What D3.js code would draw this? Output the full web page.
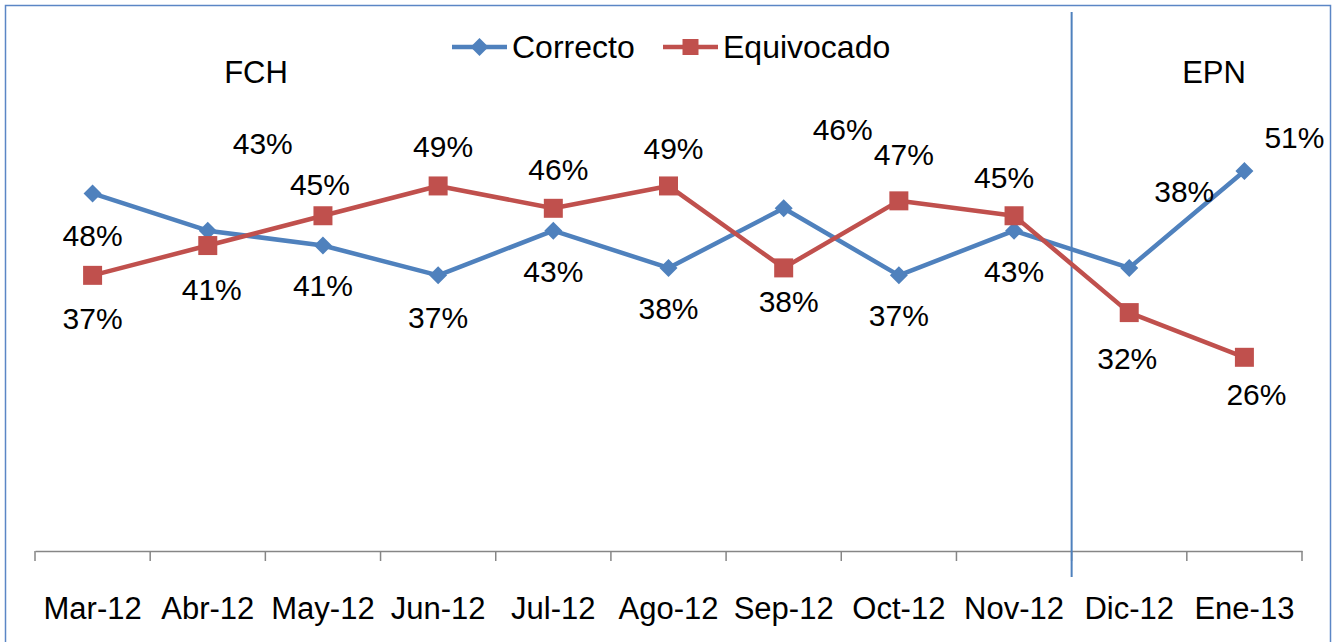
<!DOCTYPE html>
<html>
<head>
<meta charset="utf-8">
<script src="https://cdn.jsdelivr.net/npm/d3@7"></script>
<style>
  body { margin: 0; background: #fff; }
  svg text { font-family: "Liberation Sans", Arial, sans-serif; fill: #000; }
</style>
</head>
<body>
<div id="chart"></div>
<script>
var months = ["Mar-12","Abr-12","May-12","Jun-12","Jul-12","Ago-12","Sep-12","Oct-12","Nov-12","Dic-12","Ene-13"];
var correcto = [48, 43, 41, 37, 43, 38, 46, 37, 43, 38, 51];
var equivocado = [37, 41, 45, 49, 46, 49, 38, 47, 45, 32, 26];
var periods = ["FCH", "EPN"];

// label offsets from each point (layout only)
var correctoOff = [[0,42],[55,-87],[0,40],[0,42],[0,41],[0,41],[59,-79],[0,40],[0,41],[55,-76],[50,-34]];
var equivocadoOff = [[0,43],[4,44],[-3,-31],[5,-39],[5,-39],[5,-37],[5,34],[5,-46],[-10,-38],[-2,46],[12,37]];

var W = 1337, H = 642;
var blue = "#4F81BD", red = "#C0504D";

var svg = d3.select("#chart").append("svg")
    .attr("width", W).attr("height", H);

svg.append("rect")
    .attr("x", 5.5).attr("y", 5.5)
    .attr("width", 1325).attr("height", 650)
    .attr("fill", "#fff")
    .attr("stroke", "#5B86C5").attr("stroke-width", 1.5);

var x = d3.scaleBand().domain(months).range([35, 1302]).padding(0);
var y = d3.scaleLinear().domain([0, 60]).range([551, 104]);
var cx = function(m) { return x(m) + x.bandwidth() / 2; };

// x axis: labels from d3 axis, ticks at band edges
var axis = svg.append("g")
    .attr("transform", "translate(0,551)")
    .call(d3.axisBottom(x).tickSize(0).tickPadding(46));
axis.select(".domain").attr("stroke", "#868686").attr("stroke-width", 1.5);
axis.selectAll(".tick text")
    .style("font-size", "31px")
    .style("font-family", "'Liberation Sans', Arial, sans-serif")
    .attr("fill", "#000");

var edges = months.map(function(m) { return x(m); }).concat([x.range()[1]]);
svg.selectAll(".edge").data(edges).enter().append("line")
    .attr("x1", function(d) { return d; }).attr("x2", function(d) { return d; })
    .attr("y1", 551).attr("y2", 561)
    .attr("stroke", "#868686").attr("stroke-width", 1.5);

// divider between periods
var divX = x("Dic-12");
svg.append("line")
    .attr("x1", divX).attr("x2", divX)
    .attr("y1", 12).attr("y2", 577)
    .attr("stroke", blue).attr("stroke-width", 2);

svg.selectAll(".period").data(periods).enter().append("text")
    .attr("x", function(d, i) { return i == 0 ? 256 : 1214; })
    .attr("y", 83)
    .attr("text-anchor", "middle")
    .style("font-size", "31px")
    .text(function(d) { return d; });

var line = d3.line()
    .x(function(d, i) { return cx(months[i]); })
    .y(function(d) { return y(d); });

function drawSeries(vals, color, shape, offs) {
  svg.append("path").datum(vals)
      .attr("d", line)
      .attr("fill", "none")
      .attr("stroke", color)
      .attr("stroke-width", 4.5)
      .attr("stroke-linejoin", "round");

  svg.selectAll(null).data(vals).enter().append("path")
      .attr("d", shape)
      .attr("transform", function(d, i) { return "translate(" + cx(months[i]) + "," + y(d) + ")"; })
      .attr("fill", color);

  svg.selectAll(null).data(vals).enter().append("text")
      .attr("x", function(d, i) { return cx(months[i]) + offs[i][0]; })
      .attr("y", function(d, i) { return y(d) + offs[i][1]; })
      .attr("dy", "0.35em")
      .attr("text-anchor", "middle")
      .style("font-size", "30px")
      .text(function(d) { return d + "%"; });
}

var diamond = "M0,-9L9,0L0,9L-9,0Z";
var square = "M-9.5,-9.5H9.5V9.5H-9.5Z";

drawSeries(correcto, blue, diamond, correctoOff);
drawSeries(equivocado, red, square, equivocadoOff);

// legend
var legend = [
  {name: "Correcto", color: blue, shape: diamond, x: 452},
  {name: "Equivocado", color: red, shape: "M-8,-8H8V8H-8Z", x: 663}
];
var lg = svg.selectAll(".legend").data(legend).enter().append("g")
    .attr("transform", function(d) { return "translate(" + d.x + ",47)"; });
lg.append("line")
    .attr("x1", 0).attr("x2", 55)
    .attr("stroke", function(d) { return d.color; })
    .attr("stroke-width", 4.5);
lg.append("path")
    .attr("d", function(d) { return d.shape; })
    .attr("transform", "translate(27.5,0)")
    .attr("fill", function(d) { return d.color; });
lg.append("text")
    .attr("x", 60).attr("y", 0).attr("dy", "0.35em")
    .style("font-size", "32px")
    .text(function(d) { return d.name; });
</script>
</body>
</html>
